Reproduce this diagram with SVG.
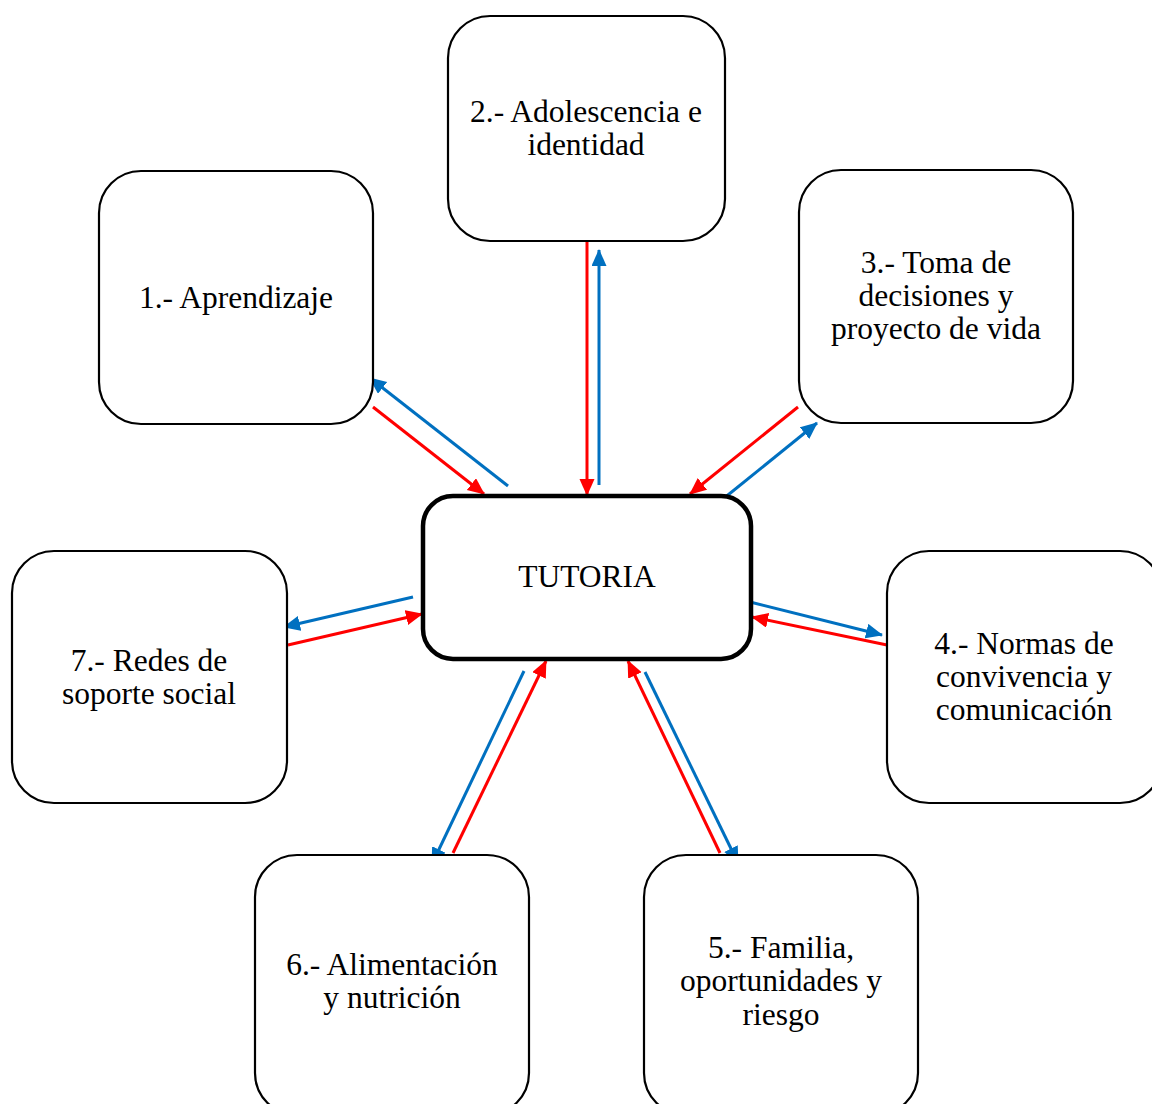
<svg xmlns="http://www.w3.org/2000/svg" width="1152" height="1104" viewBox="0 0 1152 1104">
<style>
.box{fill:#fff;stroke:#000;stroke-width:2.2}
.main{fill:#fff;stroke:#000;stroke-width:4.5}
text{font-family:"Liberation Serif","Times New Roman",serif;font-size:31.5px;fill:#000;text-anchor:middle}
.r{stroke:#FF0000;stroke-width:3;fill:none;marker-end:url(#ar)}
.b{stroke:#0070C0;stroke-width:3;fill:none;marker-end:url(#ab)}
</style>
<defs>
<marker id="ar" markerUnits="userSpaceOnUse" markerWidth="18" markerHeight="16" refX="16" refY="7.5" orient="auto" viewBox="0 0 18 16"><path d="M0,0 L17,7.5 L0,15 Z" fill="#FF0000"/></marker>
<marker id="ab" markerUnits="userSpaceOnUse" markerWidth="18" markerHeight="16" refX="16" refY="7.5" orient="auto" viewBox="0 0 18 16"><path d="M0,0 L17,7.5 L0,15 Z" fill="#0070C0"/></marker>
</defs>
<g id="connectors">
<line class="b" x1="508" y1="486" x2="370" y2="378"/>
<line class="r" x1="373" y1="407" x2="484" y2="494"/>
<line class="r" x1="587" y1="242" x2="587" y2="495"/>
<line class="b" x1="599" y1="485" x2="599" y2="250"/>
<line class="r" x1="798" y1="407" x2="690" y2="494"/>
<line class="b" x1="723" y1="499" x2="817" y2="423"/>
<line class="b" x1="413" y1="597" x2="284" y2="627"/>
<line class="r" x1="288" y1="645" x2="422" y2="614"/>
<line class="b" x1="750" y1="602" x2="882" y2="635"/>
<line class="r" x1="887" y1="645" x2="752" y2="617"/>
<line class="b" x1="524" y1="671" x2="432" y2="864"/>
<line class="r" x1="453" y1="853" x2="546" y2="661"/>
<line class="r" x1="720" y1="853" x2="628" y2="661"/>
<line class="b" x1="645" y1="672" x2="738" y2="863"/>
</g>
<g id="n2"><rect class="box" x="448" y="16" width="277" height="225" rx="42"/><text x="586" y="122">2.- Adolescencia e</text><text x="586" y="155">identidad</text></g>
<g id="n1"><rect class="box" x="99" y="171" width="274" height="253" rx="42"/><text x="236" y="308">1.- Aprendizaje</text></g>
<g id="n3"><rect class="box" x="799" y="170" width="274" height="253" rx="42"/><text x="936" y="273">3.- Toma de</text><text x="936" y="306">decisiones y</text><text x="936" y="339">proyecto de vida</text></g>
<g id="n7"><rect class="box" x="12" y="551" width="275" height="252" rx="42"/><text x="149" y="671">7.- Redes de</text><text x="149" y="704">soporte social</text></g>
<g id="n4"><rect class="box" x="887" y="551" width="275" height="252" rx="42"/><text x="1024" y="654">4.- Normas de</text><text x="1024" y="687">convivencia y</text><text x="1024" y="720">comunicación</text></g>
<g id="n6"><rect class="box" x="255" y="855" width="274" height="260" rx="42"/><text x="392" y="975">6.- Alimentación</text><text x="392" y="1008">y nutrición</text></g>
<g id="n5"><rect class="box" x="644" y="855" width="274" height="260" rx="42"/><text x="781" y="958">5.- Familia,</text><text x="781" y="991">oportunidades y</text><text x="781" y="1025">riesgo</text></g>
<g id="tutoria"><rect class="main" x="423" y="496" width="328" height="163" rx="30"/><text x="587" y="587">TUTORIA</text></g>
</svg>
